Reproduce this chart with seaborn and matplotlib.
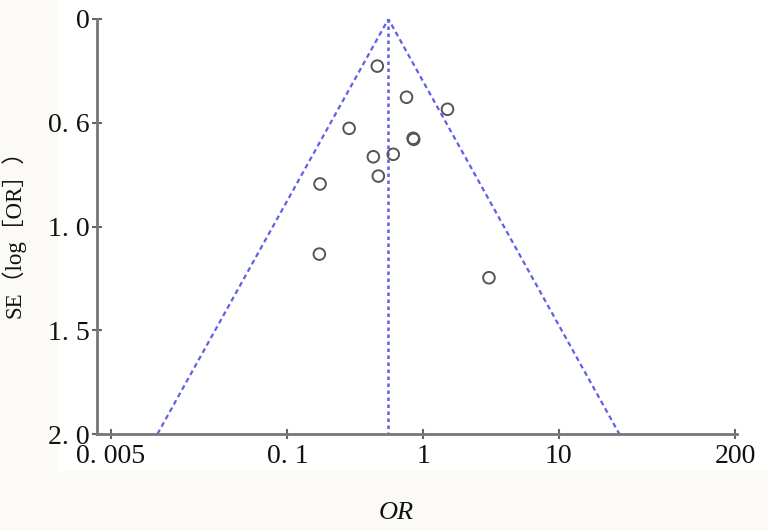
import numpy as np
import pandas as pd
import matplotlib
matplotlib.use("Agg")
import matplotlib.pyplot as plt
import seaborn as sns
from matplotlib.patches import Rectangle

# ---- data ----
or_values = [0.460, 0.755, 1.514, 0.285, 0.845, 0.853, 0.430, 0.603, 0.468, 0.174, 0.172, 3.06]
se_values = [0.227, 0.377, 0.435, 0.527, 0.575, 0.580, 0.664, 0.652, 0.757, 0.795, 1.133, 1.247]
pooled_or = 0.555
se_limits = [0.0, 2.0]
x_ticks = [0.005, 0.1, 1, 10, 200]
x_ticklabels = ["0. 005", "0. 1", "1", "10", "200"]
y_ticks = [0.0, 0.5, 1.0, 1.5, 2.0]
y_ticklabels = ["0", "0. 6", "1. 0", "1. 5", "2. 0"]

sns.set_theme(style="white")
plt.rcParams['font.family'] = ['Liberation Serif', 'Noto Sans CJK SC', 'DejaVu Serif']
plt.rcParams['mathtext.fontset'] = 'custom'
plt.rcParams['mathtext.rm'] = 'Liberation Serif'
plt.rcParams['mathtext.it'] = 'Liberation Serif:italic'

fig = plt.figure(figsize=(7.68, 5.31), dpi=100, facecolor='#fbfaf7')
fig.patches.append(Rectangle((58/768, 1-471/531), 1-58/768, 471/531,
                             transform=fig.transFigure, facecolor='white',
                             edgecolor='none', zorder=-10))
ax = fig.add_axes([97/768, 1-434/531, 640/768, 415/531])
ax.set_facecolor('none')

df = pd.DataFrame({"OR": or_values, "SE": se_values})

# funnel lines
se_grid = np.array(se_limits)
center = np.log(pooled_or)
funnel = pd.DataFrame({
    "OR": np.concatenate([np.exp(center - 1.96 * se_grid)[::-1], np.exp(center + 1.96 * se_grid)]),
    "SE": np.concatenate([se_grid[::-1], se_grid]),
})
line_color = '#5f5fe8'
sns.lineplot(data=funnel, x="OR", y="SE", sort=False, estimator=None, ax=ax,
             color=line_color, lw=1.6, linestyle=(0, (2.2, 1.6)))
vline = pd.DataFrame({"OR": [pooled_or, pooled_or], "SE": se_limits})
sns.lineplot(data=vline, x="OR", y="SE", sort=False, estimator=None, ax=ax,
             color=line_color, lw=1.8, linestyle=(0, (1.4, 1.4)))

sns.scatterplot(data=df, x="OR", y="SE", ax=ax, marker='o', s=70,
                facecolor='none', edgecolor='#555555', linewidth=1.4, zorder=5)

ax.set_xscale('log')
ax.set_xlim(0.00395, 206)
ax.set_ylim(2.0, 0.0)
ax.set_xticks(x_ticks)
ax.set_xticklabels(x_ticklabels)
ax.set_yticks(y_ticks)
ax.set_yticklabels(y_ticklabels)
ax.minorticks_off()
ax.tick_params(axis='both', direction='inout', length=7, width=1.5,
               color='#666666', labelsize=20, labelcolor='#111111', pad=2)
ax.tick_params(axis='x', bottom=True, pad=4)
ax.tick_params(axis='y', left=True, pad=2)

for s in ['top', 'right']:
    ax.spines[s].set_visible(False)
for s in ['left', 'bottom']:
    ax.spines[s].set_color('#777777')
    ax.spines[s].set_linewidth(2)

ax.set_xlabel("")
ax.set_ylabel("")
fig.text(13/768, 1-228/531, "SE（log［OR］）", rotation=90,
         ha='center', va='center', fontsize=16.5, color='#111111')
fig.text(396/768, 1-513/531, "OR", style='italic', ha='center', va='center',
         fontsize=19, color='#111111')

fig.savefig("out.png", dpi=100, facecolor=fig.get_facecolor())
